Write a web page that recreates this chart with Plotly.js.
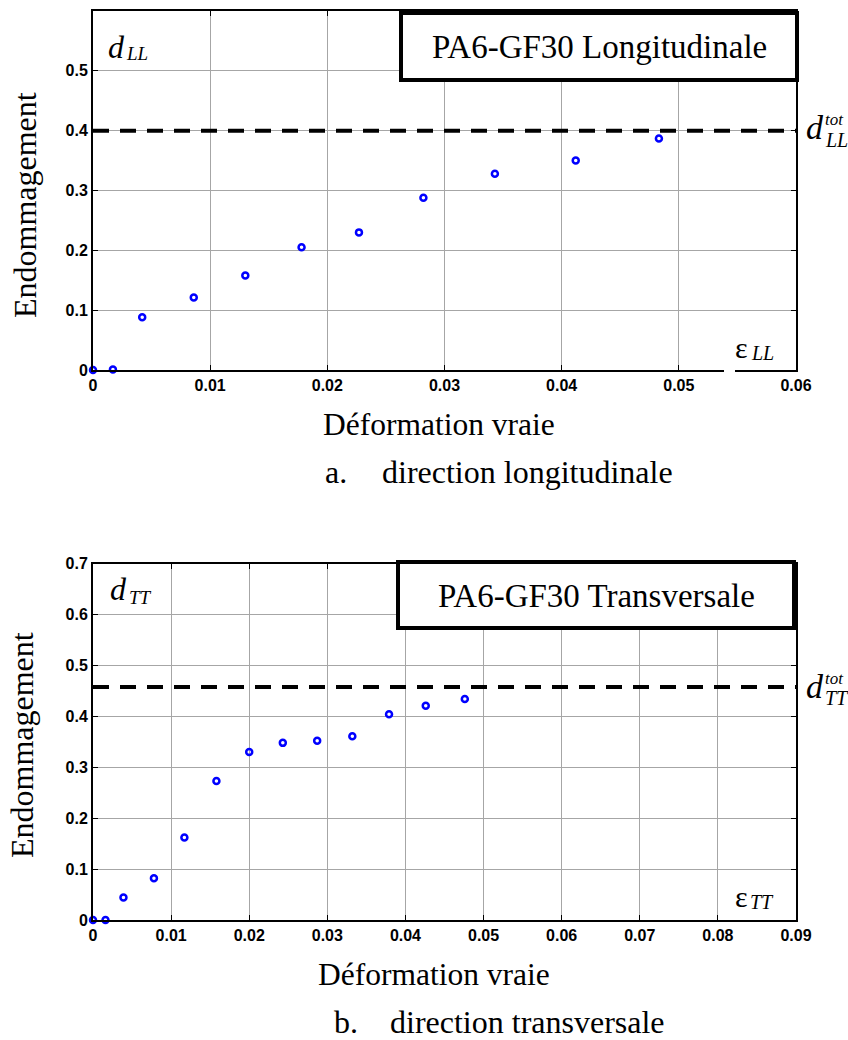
<!DOCTYPE html>
<html>
<head>
<meta charset="utf-8">
<script src="https://cdn.plot.ly/plotly-3.0.1.min.js"></script>
<style>html,body{margin:0;padding:0;background:#fff;}#chart{width:848px;height:1040px;}</style>
</head>
<body>
<div id="chart"></div>
<script>
// ---- data: longitudinal ----
const strainLL = [0, 0.0017, 0.0042, 0.0086, 0.0130, 0.0178, 0.0227, 0.0282, 0.0343, 0.0412, 0.0483];
const damageLL = [0, 0.001, 0.088, 0.121, 0.158, 0.205, 0.230, 0.288, 0.328, 0.350, 0.387];
const dTotLL = 0.40;
const xRangeLL = [0, 0.06];
const xTicksLL = [0, 0.01, 0.02, 0.03, 0.04, 0.05, 0.06];
const xTickTextLL = ['0', '0.01', '0.02', '0.03', '0.04', '0.05', '0.06'];
const yTicksLL = [0, 0.1, 0.2, 0.3, 0.4, 0.5];
const yTickTextLL = ['0', '0.1', '0.2', '0.3', '0.4', '0.5'];

// ---- data: transverse ----
const strainTT = [0, 0.0016, 0.0039, 0.0078, 0.0117, 0.0158, 0.0200, 0.0243, 0.0287, 0.0332, 0.0379, 0.0426, 0.0476];
const damageTT = [0, 0, 0.044, 0.082, 0.162, 0.273, 0.330, 0.348, 0.352, 0.361, 0.404, 0.421, 0.434];
const dTotTT = 0.458;
const xRangeTT = [0, 0.09];
const xTicksTT = [0, 0.01, 0.02, 0.03, 0.04, 0.05, 0.06, 0.07, 0.08, 0.09];
const xTickTextTT = ['0', '0.01', '0.02', '0.03', '0.04', '0.05', '0.06', '0.07', '0.08', '0.09'];
const yTicksTT = [0, 0.1, 0.2, 0.3, 0.4, 0.5, 0.6, 0.7];
const yTickTextTT = ['0', '0.1', '0.2', '0.3', '0.4', '0.5', '0.6', '0.7'];

// text
const yTitle = 'Endommagement';
const xTitle = 'Déformation vraie';
const boxLL = 'PA6-GF30 Longitudinale';
const boxTT = 'PA6-GF30 Transversale';

// ---- geometry helpers (pixel -> paper) ----
const W = 848, H = 1040, ML = 93, MR = 52, MT = 11, MB = 120;
const PW = W - ML - MR, PH = H - MT - MB;
const px = x => (x - ML) / PW;
const py = y => (H - MB - y) / PH;

const serif = 'Liberation Serif, Times New Roman, serif';
const sans = 'Liberation Sans, Arial, sans-serif';

const markerStyle = {symbol: 'circle-open', size: 6, color: '#0000ff', line: {width: 2.5, color: '#0000ff'}};
const dashStyle = {color: '#000', width: 4, dash: '16px,11px'};

const traces = [
  {x: [xRangeLL[0], xRangeLL[1]], y: [dTotLL, dTotLL], xaxis: 'x', yaxis: 'y', mode: 'lines', line: dashStyle, hoverinfo: 'skip'},
  {x: strainLL, y: damageLL, xaxis: 'x', yaxis: 'y', mode: 'markers', marker: markerStyle, cliponaxis: false},
  {x: [xRangeTT[0], xRangeTT[1]], y: [dTotTT, dTotTT], xaxis: 'x2', yaxis: 'y2', mode: 'lines', line: dashStyle, hoverinfo: 'skip'},
  {x: strainTT, y: damageTT, xaxis: 'x2', yaxis: 'y2', mode: 'markers', marker: markerStyle, cliponaxis: false}
];

const axisCommon = {
  showgrid: true, gridcolor: '#a6a6a6', gridwidth: 1,
  showline: true, linecolor: '#000', linewidth: 2, mirror: 'ticks',
  ticks: 'inside', ticklen: 5, tickcolor: '#000', tickwidth: 1,
  zeroline: false, fixedrange: true,
  tickfont: {family: sans, size: 16, color: '#000', weight: 'bold'}
};

const ann = [];
function txt(text, x, y, size, xanchor, opts) {
  ann.push(Object.assign({text: text, x: px(x), y: py(y), xref: 'paper', yref: 'paper',
    xanchor: xanchor || 'center', yanchor: 'middle', showarrow: false,
    font: {family: serif, size: size, color: '#000'}}, opts || {}));
}
// vertical axis titles
txt(yTitle, 25, 205, 32, 'center', {textangle: -90});
txt(yTitle, 22, 745, 32, 'center', {textangle: -90});
// x titles
txt(xTitle, 439, 425, 31.5);
txt(xTitle, 434, 974, 31.5);
// captions
txt('a.', 323, 472, 32, 'left');
txt('direction longitudinale', 380, 472, 32, 'left');
txt('b.', 332, 1022, 32, 'left');
txt('direction transversale', 388, 1022, 32, 'left');
// box texts
txt(boxLL, 599, 47, 33);
txt(boxTT, 596, 596, 33);
// d labels
txt('<i>d</i>', 106, 47, 32, 'left');
txt('<i>LL</i>', 124, 53, 19, 'left');
txt('<i>d</i>', 108, 589, 32, 'left');
txt('<i>TT</i>', 127, 597, 19, 'left');
// d tot labels
txt('<i>d</i>', 804, 127, 34, 'left');
txt('<i>tot</i>', 823, 119, 17, 'left');
txt('<i>LL</i>', 823, 140, 20, 'left');
txt('<i>d</i>', 804, 686, 34, 'left');
txt('<i>tot</i>', 823, 678, 17, 'left');
txt('<i>TT</i>', 823, 698, 20, 'left');
// epsilon labels
txt('ε', 733, 347, 30, 'left');
txt('<i>LL</i>', 749, 353, 20, 'left');
txt('ε', 733, 896, 30, 'left');
txt('<i>TT</i>', 748, 902, 20, 'left');

const shapes = [
  {type: 'rect', xref: 'paper', yref: 'paper', x0: px(401), x1: px(797), y0: py(80), y1: py(13),
   line: {color: '#000', width: 4}, fillcolor: '#fff', layer: 'above'},
  {type: 'rect', xref: 'paper', yref: 'paper', x0: px(398), x1: px(794), y0: py(628), y1: py(562),
   line: {color: '#000', width: 4}, fillcolor: '#fff', layer: 'above'},
  {type: 'rect', xref: 'paper', yref: 'paper', x0: px(724), x1: px(735), y0: py(373), y1: py(367),
   line: {width: 0}, fillcolor: '#fff', layer: 'above'}
];

const layout = {
  width: W, height: H,
  margin: {l: ML, r: MR, t: MT, b: MB, pad: 0},
  paper_bgcolor: '#fff', plot_bgcolor: '#fff',
  showlegend: false,
  xaxis: Object.assign({}, axisCommon, {domain: [0, 1], anchor: 'y', range: xRangeLL, tickvals: xTicksLL, ticktext: xTickTextLL}),
  yaxis: Object.assign({}, axisCommon, {domain: [py(370), 1], anchor: 'x', range: [0, 0.6], tickvals: yTicksLL, ticktext: yTickTextLL}),
  xaxis2: Object.assign({}, axisCommon, {domain: [0, 1], anchor: 'y2', range: xRangeTT, tickvals: xTicksTT, ticktext: xTickTextTT}),
  yaxis2: Object.assign({}, axisCommon, {domain: [0, py(563.7)], anchor: 'x2', range: [0, 0.7], tickvals: yTicksTT, ticktext: yTickTextTT}),
  annotations: ann,
  shapes: shapes
};

Plotly.newPlot('chart', traces, layout, {displayModeBar: false, staticPlot: true});
</script>
</body>
</html>
